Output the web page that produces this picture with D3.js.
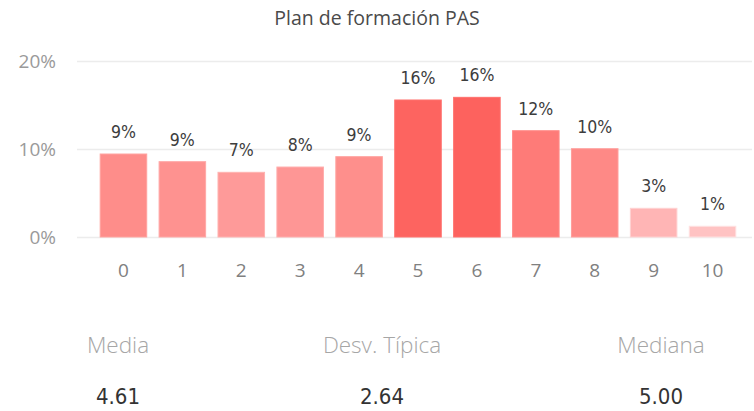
<!DOCTYPE html>
<html>
<head>
<meta charset="utf-8">
<script src="https://cdn.jsdelivr.net/npm/d3@7.9.0/dist/d3.min.js"></script>
<style>
  html, body { margin: 0; padding: 0; background: #fff; }
  svg { display: block; }
</style>
</head>
<body>
<div id="chart"></div>
<script>
// datos
const title = 'Plan de formación PAS';
const categories = ['0', '1', '2', '3', '4', '5', '6', '7', '8', '9', '10'];
const values = [9.43, 8.56, 7.35, 7.95, 9.13, 15.57, 15.87, 12.08, 10.03, 3.26, 1.22];
const yTicks = [0, 10, 20];
const statLabels = ['Media', 'Desv. Típica', 'Mediana'];
const statValues = ['4.61', '2.64', '5.00'];

const W = 754, H = 411;
const dinFont = '"DejaVu Sans Condensed", "Liberation Sans Narrow", "DejaVu Sans", sans-serif';
const uiFont = '"Open Sans", "Noto Sans", sans-serif';

const svg = d3.select('#chart').append('svg')
  .attr('width', W).attr('height', H);

// título
svg.append('text')
  .attr('x', 377).attr('y', 25)
  .attr('text-anchor', 'middle')
  .style('font-family', uiFont)
  .style('font-size', '19.5px')
  .style('fill', '#4a4a4a')
  .text(title);

const x = d3.scaleBand()
  .domain(categories)
  .range([94, 742])
  .paddingInner(0.21)
  .paddingOuter(0.105);

const y = d3.scaleLinear().domain([0, 20]).range([237, 61]);

const color = d3.scaleLinear()
  .domain(d3.extent(values))
  .range(['#ffc3c3', '#fd625e']);

// líneas de cuadrícula
svg.append('g')
  .selectAll('line').data(yTicks).join('line')
  .attr('x1', 77).attr('x2', 752)
  .attr('y1', d => Math.round(y(d)) + 0.5)
  .attr('y2', d => Math.round(y(d)) + 0.5)
  .attr('stroke', '#ececec')
  .attr('stroke-width', 1.5);

// eje Y
svg.append('g')
  .selectAll('text').data(yTicks).join('text')
  .attr('x', 56).attr('y', d => y(d))
  .attr('dy', '0.36em')
  .attr('text-anchor', 'end')
  .style('font-family', uiFont)
  .style('font-size', '19px')
  .style('fill', '#9a9a9a')
  .text(d => d + '%');

// barras
const data = categories.map((c, i) => ({ c, v: values[i] }));
svg.append('g')
  .selectAll('rect').data(data).join('rect')
  .attr('x', d => x(d.c))
  .attr('y', d => y(d.v))
  .attr('width', x.bandwidth())
  .attr('height', d => y(0) - y(d.v))
  .attr('fill', d => color(d.v))
  .attr('stroke', d => d3.color(color(d.v)).brighter(0.4))
  .attr('stroke-width', 1);

// etiquetas de datos
svg.append('g')
  .selectAll('text').data(data).join('text')
  .attr('x', d => x(d.c) + x.bandwidth() / 2)
  .attr('y', d => y(d.v) - 16)
  .attr('text-anchor', 'middle')
  .style('font-family', dinFont)
  .style('font-size', '17.5px')
  .style('fill', '#3d3d3d')
  .text(d => Math.round(d.v) + '%');

// eje X
svg.append('g')
  .selectAll('text').data(categories).join('text')
  .attr('x', d => x(d) + x.bandwidth() / 2)
  .attr('y', 277)
  .attr('text-anchor', 'middle')
  .style('font-family', uiFont)
  .style('font-size', '19px')
  .style('fill', '#808080')
  .text(d => d);

// tarjetas de estadísticas
const statX = [118, 382, 661];
const stats = svg.append('g');
stats.selectAll('text.lbl').data(statLabels).join('text')
  .attr('class', 'lbl')
  .attr('x', (d, i) => statX[i]).attr('y', 353)
  .attr('text-anchor', 'middle')
  .style('font-family', uiFont)
  .style('font-size', '22.5px')
  .style('font-weight', 300)
  .style('fill', '#a6a6a6')
  .text(d => d);
stats.selectAll('text.val').data(statValues).join('text')
  .attr('class', 'val')
  .attr('x', (d, i) => statX[i]).attr('y', 404)
  .attr('text-anchor', 'middle')
  .style('font-family', dinFont)
  .style('font-size', '22px')
  .style('fill', '#333')
  .text(d => d);
</script>
</body>
</html>
